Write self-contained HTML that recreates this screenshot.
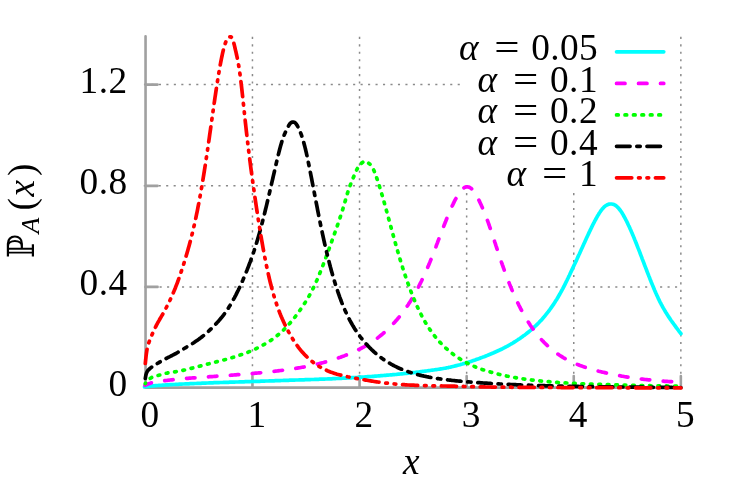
<!DOCTYPE html>
<html><head><meta charset="utf-8"><title>plot</title>
<style>html,body{margin:0;padding:0;background:#fff;overflow:hidden}svg{display:block}text{font-family:"Liberation Serif",serif;fill:#000}svg{will-change:transform}</style></head><body>
<svg width="731" height="487" viewBox="0 0 731 487" role="img" aria-label="Plot of P_A(x) versus x for alpha = 0.05, 0.1, 0.2, 0.4, 1">
<rect width="731" height="487" fill="#fff"/>
<g stroke="#8a8a8a" stroke-width="1.5" fill="none"><g stroke-dasharray="2.1 5.34"><line x1="252.45" y1="36.85" x2="252.45" y2="387.60"/><line x1="359.55" y1="36.85" x2="359.55" y2="387.60"/><line x1="466.65" y1="36.85" x2="466.65" y2="387.60"/><line x1="573.75" y1="36.85" x2="573.75" y2="387.60"/><line x1="680.85" y1="36.85" x2="680.85" y2="387.60"/></g><g stroke-dasharray="2.1 5.37"><line x1="144.65" y1="286.90" x2="680.85" y2="286.90"/><line x1="143.75" y1="185.85" x2="680.85" y2="185.85"/><line x1="143.95" y1="84.60" x2="680.85" y2="84.60"/></g></g>
<g stroke="#a0a0a0" stroke-width="2.6" fill="none" stroke-linejoin="round" stroke-linecap="round"><path d="M145.55 36.30 V387.60 H680.85" /><path d="M145.55 286.90 H157.6"/><path d="M145.55 185.85 H157.6"/><path d="M145.55 84.60 H157.6"/><path d="M252.45 387.60 v-11.5"/><path d="M359.55 387.60 v-11.5"/><path d="M466.65 387.60 v-11.5"/><path d="M573.75 387.60 v-11.5"/><path d="M680.85 387.60 v-11.5"/></g>
<rect x="460.5" y="36" width="218.5" height="156" fill="#fff"/>
<g fill="none" stroke-width="3.7" stroke-linecap="round" stroke-linejoin="round">
<path stroke="#00ffff" d="M144.5 387.0L145.7 386.8L146.9 386.6L148.1 386.5L149.3 386.3L150.5 386.2L151.7 386.0L152.9 385.9L154.1 385.8L155.3 385.7L156.5 385.6L157.7 385.5L158.9 385.4L160.1 385.4L161.3 385.3L162.5 385.2L163.7 385.1L164.9 385.0L166.1 384.9L167.3 384.9L168.5 384.8L169.7 384.7L170.9 384.7L172.1 384.6L173.3 384.5L174.5 384.5L175.7 384.4L176.9 384.3L178.1 384.3L179.3 384.2L180.5 384.2L181.7 384.1L182.9 384.0L184.1 384.0L185.3 383.9L186.5 383.9L187.7 383.8L188.9 383.8L190.1 383.7L191.3 383.7L192.5 383.6L193.7 383.6L194.9 383.5L196.1 383.5L197.3 383.4L198.5 383.4L199.7 383.3L200.9 383.3L202.1 383.2L203.3 383.2L204.5 383.1L205.7 383.1L206.9 383.0L208.1 383.0L209.3 382.9L210.5 382.9L211.7 382.8L212.9 382.8L214.1 382.7L215.3 382.7L216.5 382.7L217.7 382.6L218.9 382.6L220.1 382.5L221.3 382.5L222.5 382.5L223.7 382.4L224.9 382.4L226.1 382.3L227.3 382.3L228.5 382.3L229.7 382.2L230.9 382.2L232.1 382.2L233.3 382.1L234.5 382.1L235.7 382.0L236.9 382.0L238.1 382.0L239.3 381.9L240.5 381.9L241.7 381.8L242.9 381.8L244.1 381.8L245.3 381.7L246.5 381.7L247.7 381.7L248.9 381.6L250.1 381.6L251.3 381.5L252.5 381.5L253.7 381.5L254.9 381.4L256.1 381.4L257.3 381.3L258.5 381.3L259.7 381.3L260.9 381.2L262.1 381.2L263.3 381.1L264.5 381.1L265.7 381.0L266.9 381.0L268.1 381.0L269.3 380.9L270.5 380.9L271.7 380.8L272.9 380.8L274.1 380.8L275.3 380.7L276.5 380.7L277.7 380.6L278.9 380.6L280.1 380.6L281.3 380.5L282.5 380.5L283.7 380.4L284.9 380.4L286.1 380.4L287.3 380.3L288.5 380.3L289.7 380.2L290.9 380.2L292.1 380.2L293.3 380.1L294.5 380.1L295.7 380.0L296.9 380.0L298.1 380.0L299.3 379.9L300.5 379.9L301.7 379.9L302.9 379.8L304.1 379.8L305.3 379.7L306.5 379.7L307.7 379.7L308.9 379.6L310.1 379.6L311.3 379.5L312.5 379.5L313.7 379.5L314.9 379.4L316.1 379.4L317.3 379.3L318.5 379.3L319.7 379.2L320.9 379.2L322.1 379.2L323.3 379.1L324.5 379.1L325.7 379.0L326.9 379.0L328.1 378.9L329.3 378.9L330.5 378.8L331.7 378.8L332.9 378.7L334.1 378.6L335.3 378.6L336.5 378.5L337.7 378.5L338.9 378.4L340.1 378.4L341.3 378.3L342.5 378.2L343.7 378.2L344.9 378.1L346.1 378.1L347.3 378.0L348.5 377.9L349.7 377.9L350.9 377.8L352.1 377.7L353.3 377.7L354.5 377.6L355.7 377.5L356.9 377.5L358.1 377.4L359.3 377.3L360.5 377.2L361.7 377.2L362.9 377.1L364.1 377.0L365.3 376.9L366.5 376.8L367.7 376.7L368.9 376.7L370.1 376.6L371.3 376.5L372.5 376.4L373.7 376.3L374.9 376.2L376.1 376.1L377.3 376.0L378.5 375.9L379.7 375.8L380.9 375.7L382.1 375.6L383.3 375.5L384.5 375.4L385.7 375.3L386.9 375.2L388.1 375.1L389.3 375.0L390.5 374.9L391.7 374.8L392.9 374.7L394.1 374.6L395.3 374.5L396.5 374.4L397.7 374.2L398.9 374.1L400.1 374.0L401.3 373.9L402.5 373.8L403.7 373.6L404.9 373.5L406.1 373.4L407.3 373.3L408.5 373.1L409.7 373.0L410.9 372.9L412.1 372.7L413.3 372.6L414.5 372.5L415.7 372.3L416.9 372.2L418.1 372.0L419.3 371.9L420.5 371.7L421.7 371.6L422.9 371.4L424.1 371.3L425.3 371.1L426.5 371.0L427.7 370.8L428.9 370.6L430.1 370.5L431.3 370.3L432.5 370.1L433.7 370.0L434.9 369.8L436.1 369.6L437.3 369.5L438.5 369.3L439.7 369.1L440.9 368.9L442.1 368.7L443.3 368.5L444.5 368.3L445.7 368.1L446.9 367.8L448.1 367.6L449.3 367.3L450.5 367.1L451.7 366.8L452.9 366.5L454.1 366.2L455.3 365.9L456.5 365.6L457.7 365.3L458.9 365.0L460.1 364.7L461.3 364.3L462.5 364.0L463.7 363.6L464.9 363.3L466.1 362.9L467.3 362.6L468.5 362.2L469.7 361.8L470.9 361.4L472.1 361.0L473.3 360.6L474.5 360.2L475.7 359.8L476.9 359.3L478.1 358.9L479.3 358.5L480.5 358.0L481.7 357.6L482.9 357.1L484.1 356.7L485.3 356.2L486.5 355.7L487.7 355.3L488.9 354.8L490.1 354.3L491.3 353.8L492.5 353.3L493.7 352.8L494.8 352.3L495.9 351.8L497.0 351.3L498.1 350.8L499.2 350.3L500.3 349.7L501.4 349.2L502.5 348.7L503.6 348.1L504.7 347.5L505.8 347.0L506.9 346.4L508.0 345.8L509.1 345.2L510.2 344.5L511.3 343.9L512.4 343.3L513.5 342.6L514.6 341.9L515.7 341.2L516.8 340.5L517.9 339.8L518.9 339.1L519.9 338.5L520.9 337.8L521.9 337.1L522.9 336.3L523.9 335.6L524.9 334.9L525.9 334.1L526.9 333.3L527.9 332.5L528.9 331.7L529.9 330.9L530.9 330.1L531.9 329.2L532.9 328.3L533.8 327.5L534.7 326.7L535.6 325.8L536.5 325.0L537.4 324.1L538.3 323.2L539.2 322.3L540.1 321.3L541.0 320.4L541.9 319.4L542.7 318.5L543.5 317.6L544.3 316.6L545.1 315.7L545.9 314.7L546.7 313.7L547.5 312.7L548.3 311.7L549.1 310.6L549.9 309.5L550.7 308.4L551.4 307.4L552.1 306.4L552.8 305.4L553.5 304.4L554.2 303.3L554.9 302.2L555.6 301.1L556.3 300.0L557.0 298.9L557.7 297.7L558.4 296.5L559.1 295.3L559.7 294.3L560.3 293.2L560.9 292.1L561.5 291.0L562.1 289.9L562.7 288.8L563.3 287.6L563.9 286.5L564.5 285.3L565.1 284.1L565.7 282.9L566.3 281.7L566.9 280.5L567.5 279.2L568.1 278.0L568.7 276.7L569.3 275.5L569.9 274.2L570.5 272.9L571.1 271.7L571.7 270.4L572.3 269.1L572.9 267.8L573.5 266.5L574.1 265.2L574.7 264.0L575.3 262.7L575.9 261.4L576.5 260.1L577.1 258.8L577.7 257.4L578.3 256.1L578.8 255.0L579.3 254.0L579.8 252.9L580.3 251.8L580.8 250.7L581.3 249.6L581.8 248.5L582.3 247.4L582.8 246.3L583.3 245.2L583.8 244.1L584.3 243.0L584.8 241.9L585.3 240.8L585.8 239.7L586.3 238.6L586.9 237.3L587.5 236.0L588.1 234.7L588.7 233.4L589.3 232.1L589.9 230.9L590.5 229.6L591.1 228.4L591.7 227.1L592.3 225.9L592.9 224.7L593.5 223.5L594.1 222.4L594.7 221.2L595.3 220.1L595.9 219.0L596.5 217.9L597.1 216.8L597.8 215.6L598.5 214.5L599.2 213.3L599.9 212.3L600.6 211.2L601.4 210.1L602.2 209.1L603.0 208.2L603.9 207.2L604.8 206.4L605.8 205.6L606.9 205.0L608.0 204.5L609.2 204.1L610.4 204.0L611.6 204.0L612.8 204.2L614.0 204.6L615.1 205.2L616.1 205.8L617.1 206.7L618.0 207.6L618.8 208.5L619.6 209.5L620.4 210.5L621.1 211.5L621.8 212.6L622.5 213.7L623.2 214.9L623.8 216.0L624.4 217.1L625.0 218.2L625.6 219.3L626.2 220.5L626.8 221.7L627.4 222.9L628.0 224.2L628.6 225.5L629.2 226.7L629.7 227.8L630.2 229.0L630.7 230.1L631.2 231.2L631.7 232.4L632.2 233.6L632.7 234.7L633.2 235.9L633.7 237.1L634.2 238.3L634.7 239.6L635.2 240.8L635.7 242.0L636.2 243.3L636.7 244.5L637.2 245.8L637.7 247.1L638.2 248.4L638.7 249.6L639.2 250.9L639.7 252.2L640.2 253.5L640.7 254.8L641.2 256.1L641.7 257.4L642.2 258.8L642.7 260.1L643.2 261.4L643.7 262.7L644.2 264.0L644.7 265.3L645.2 266.6L645.7 267.9L646.2 269.2L646.7 270.5L647.2 271.8L647.7 273.1L648.2 274.4L648.7 275.7L649.2 276.9L649.7 278.2L650.2 279.5L650.7 280.7L651.2 282.0L651.7 283.2L652.2 284.4L652.7 285.6L653.2 286.8L653.7 288.0L654.2 289.2L654.7 290.4L655.2 291.5L655.7 292.7L656.2 293.8L656.7 294.9L657.2 296.0L657.8 297.3L658.4 298.6L659.0 299.8L659.6 301.1L660.2 302.3L660.8 303.4L661.4 304.6L662.0 305.7L662.6 306.8L663.2 307.9L663.8 308.9L664.5 310.1L665.2 311.3L665.9 312.5L666.6 313.6L667.3 314.7L668.0 315.8L668.7 316.9L669.4 317.9L670.1 318.9L670.8 320.0L671.5 321.0L672.2 322.0L672.9 322.9L673.7 324.0L674.5 325.1L675.3 326.2L676.1 327.3L676.9 328.4L677.7 329.4L678.5 330.5L679.3 331.6L680.1 332.6L680.9 333.7"/>
<path stroke="#ff00ff" stroke-dasharray="8.45 13.52" stroke-dashoffset="1.6" d="M145.0 385.3L146.1 384.8L147.3 384.3L148.5 383.8L149.7 383.4L150.9 383.0L152.1 382.7L153.3 382.4L154.5 382.2L155.7 381.9L156.9 381.8L158.1 381.6L159.3 381.4L160.5 381.2L161.7 381.1L162.9 380.9L164.1 380.8L165.3 380.6L166.5 380.5L167.7 380.3L168.9 380.2L170.1 380.0L171.3 379.9L172.5 379.8L173.7 379.6L174.9 379.5L176.1 379.4L177.3 379.3L178.5 379.1L179.7 379.0L180.9 378.9L182.1 378.8L183.3 378.7L184.5 378.6L185.7 378.5L186.9 378.4L188.1 378.3L189.3 378.2L190.5 378.1L191.7 378.0L192.9 377.9L194.1 377.8L195.3 377.8L196.5 377.7L197.7 377.6L198.9 377.5L200.1 377.4L201.3 377.3L202.5 377.2L203.7 377.2L204.9 377.1L206.1 377.0L207.3 376.9L208.5 376.8L209.7 376.7L210.9 376.7L212.1 376.6L213.3 376.5L214.5 376.4L215.7 376.3L216.9 376.2L218.1 376.1L219.3 376.0L220.5 376.0L221.7 375.9L222.9 375.8L224.1 375.7L225.3 375.6L226.5 375.5L227.7 375.4L228.9 375.3L230.1 375.3L231.3 375.2L232.5 375.1L233.7 375.0L234.9 374.9L236.1 374.8L237.3 374.7L238.5 374.6L239.7 374.5L240.9 374.4L242.1 374.4L243.3 374.3L244.5 374.2L245.7 374.1L246.9 374.0L248.1 373.9L249.3 373.8L250.5 373.7L251.7 373.6L252.9 373.5L254.1 373.3L255.3 373.2L256.5 373.1L257.7 373.0L258.9 372.9L260.1 372.8L261.3 372.7L262.5 372.6L263.7 372.4L264.9 372.3L266.1 372.2L267.3 372.1L268.5 371.9L269.7 371.8L270.9 371.7L272.1 371.5L273.3 371.4L274.5 371.3L275.7 371.1L276.9 371.0L278.1 370.8L279.3 370.7L280.5 370.5L281.7 370.4L282.9 370.2L284.1 370.1L285.3 369.9L286.5 369.7L287.7 369.6L288.9 369.4L290.1 369.2L291.3 369.0L292.5 368.9L293.7 368.7L294.9 368.5L296.1 368.3L297.3 368.1L298.5 367.9L299.7 367.7L300.9 367.5L302.1 367.3L303.3 367.1L304.5 366.9L305.7 366.6L306.9 366.4L308.1 366.2L309.3 365.9L310.5 365.7L311.7 365.4L312.9 365.1L314.1 364.9L315.3 364.6L316.5 364.3L317.7 364.0L318.9 363.7L320.1 363.4L321.3 363.1L322.5 362.8L323.7 362.5L324.9 362.1L326.1 361.8L327.3 361.4L328.5 361.1L329.7 360.7L330.9 360.4L332.1 360.0L333.3 359.6L334.5 359.2L335.7 358.8L336.9 358.4L338.1 358.0L339.3 357.6L340.5 357.2L341.7 356.7L342.9 356.3L344.1 355.9L345.3 355.4L346.5 354.9L347.7 354.5L348.9 354.0L350.1 353.5L351.3 353.0L352.5 352.5L353.6 352.0L354.7 351.5L355.8 351.0L356.9 350.5L358.0 349.9L359.1 349.4L360.2 348.8L361.3 348.3L362.4 347.7L363.5 347.1L364.6 346.5L365.7 345.8L366.8 345.2L367.9 344.5L369.0 343.9L370.1 343.2L371.2 342.4L372.3 341.7L373.3 341.0L374.3 340.3L375.3 339.6L376.3 338.9L377.3 338.2L378.3 337.4L379.3 336.6L380.3 335.8L381.3 335.0L382.3 334.2L383.3 333.3L384.3 332.5L385.2 331.7L386.1 330.8L387.0 330.0L387.9 329.2L388.8 328.3L389.7 327.4L390.6 326.5L391.5 325.6L392.4 324.7L393.3 323.7L394.2 322.7L395.1 321.7L395.9 320.8L396.7 319.9L397.5 319.0L398.3 318.1L399.1 317.1L399.9 316.1L400.7 315.1L401.5 314.1L402.3 313.0L403.1 312.0L403.9 310.9L404.7 309.8L405.4 308.8L406.1 307.8L406.8 306.8L407.5 305.7L408.2 304.7L408.9 303.6L409.6 302.5L410.3 301.4L411.0 300.3L411.7 299.1L412.4 298.0L413.1 296.8L413.8 295.6L414.4 294.5L415.0 293.5L415.6 292.4L416.2 291.3L416.8 290.2L417.4 289.1L418.0 287.9L418.6 286.8L419.2 285.6L419.8 284.4L420.4 283.2L421.0 282.0L421.6 280.8L422.2 279.5L422.8 278.2L423.4 277.0L424.0 275.7L424.5 274.6L425.0 273.5L425.5 272.4L426.0 271.2L426.5 270.1L427.0 269.0L427.5 267.8L428.0 266.6L428.5 265.5L429.0 264.3L429.5 263.1L430.0 261.9L430.5 260.6L431.0 259.4L431.5 258.2L432.0 256.9L432.5 255.7L433.0 254.4L433.5 253.1L434.0 251.8L434.5 250.5L435.0 249.2L435.5 247.9L436.0 246.6L436.5 245.2L437.0 243.9L437.5 242.6L438.0 241.2L438.5 239.9L439.0 238.6L439.5 237.3L440.0 235.9L440.5 234.6L441.0 233.3L441.5 232.0L442.0 230.7L442.5 229.4L443.0 228.1L443.5 226.8L444.0 225.5L444.5 224.3L445.0 223.0L445.5 221.8L446.0 220.5L446.5 219.3L447.0 218.0L447.5 216.8L448.0 215.6L448.5 214.4L449.0 213.2L449.5 212.1L450.0 210.9L450.5 209.7L451.0 208.6L451.5 207.5L452.0 206.4L452.6 205.1L453.2 203.9L453.8 202.6L454.4 201.4L455.0 200.2L455.6 199.1L456.2 198.0L456.8 196.9L457.5 195.7L458.2 194.6L458.9 193.5L459.6 192.5L460.4 191.4L461.2 190.4L462.0 189.5L462.9 188.6L463.9 187.8L465.0 187.2L466.2 186.9L467.4 186.8L468.6 187.0L469.8 187.5L470.9 188.2L471.9 189.1L472.8 190.0L473.6 191.0L474.4 192.1L475.1 193.2L475.8 194.4L476.5 195.6L477.1 196.7L477.7 197.8L478.3 199.0L478.9 200.2L479.5 201.4L480.1 202.7L480.7 204.0L481.2 205.1L481.7 206.2L482.2 207.3L482.7 208.5L483.2 209.6L483.7 210.8L484.2 212.0L484.7 213.3L485.2 214.5L485.7 215.8L486.2 217.1L486.7 218.4L487.2 219.8L487.7 221.1L488.2 222.5L488.7 223.9L489.1 225.0L489.5 226.2L489.9 227.3L490.3 228.5L490.7 229.7L491.1 230.9L491.5 232.1L491.9 233.3L492.3 234.5L492.7 235.7L493.1 236.9L493.5 238.1L493.9 239.3L494.3 240.5L494.7 241.8L495.1 243.0L495.5 244.2L495.9 245.5L496.3 246.7L496.7 247.9L497.1 249.1L497.5 250.4L497.9 251.6L498.3 252.8L498.7 254.0L499.1 255.2L499.5 256.4L499.9 257.6L500.3 258.8L500.7 260.0L501.1 261.1L501.5 262.3L501.9 263.4L502.3 264.6L502.7 265.7L503.2 267.1L503.7 268.5L504.2 269.9L504.7 271.3L505.2 272.7L505.7 274.0L506.2 275.4L506.7 276.7L507.2 278.0L507.7 279.3L508.2 280.6L508.7 281.9L509.2 283.1L509.7 284.4L510.2 285.6L510.7 286.9L511.2 288.1L511.7 289.3L512.2 290.5L512.7 291.6L513.2 292.8L513.7 293.9L514.2 295.1L514.7 296.2L515.2 297.3L515.7 298.4L516.3 299.7L516.9 301.0L517.5 302.3L518.1 303.5L518.7 304.8L519.3 306.0L519.9 307.2L520.5 308.4L521.1 309.5L521.7 310.6L522.3 311.8L522.9 312.9L523.5 314.0L524.1 315.0L524.7 316.1L525.4 317.3L526.1 318.5L526.8 319.7L527.5 320.8L528.2 321.9L528.9 323.0L529.6 324.1L530.3 325.2L531.0 326.2L531.7 327.2L532.4 328.2L533.1 329.2L533.9 330.3L534.7 331.4L535.5 332.4L536.3 333.5L537.1 334.5L537.9 335.4L538.7 336.4L539.5 337.3L540.3 338.3L541.1 339.2L542.0 340.2L542.9 341.1L543.8 342.1L544.7 343.0L545.6 343.9L546.5 344.7L547.4 345.6L548.3 346.4L549.2 347.2L550.2 348.1L551.2 349.0L552.2 349.8L553.2 350.6L554.2 351.4L555.2 352.2L556.2 352.9L557.2 353.6L558.2 354.3L559.2 355.0L560.3 355.7L561.4 356.4L562.5 357.1L563.6 357.8L564.7 358.4L565.8 359.0L566.9 359.6L568.0 360.2L569.1 360.8L570.2 361.3L571.3 361.8L572.4 362.3L573.5 362.8L574.7 363.4L575.9 363.9L577.1 364.3L578.3 364.8L579.5 365.3L580.7 365.7L581.9 366.1L583.1 366.6L584.3 367.0L585.5 367.4L586.7 367.7L587.9 368.1L589.1 368.5L590.3 368.8L591.5 369.2L592.7 369.5L593.9 369.9L595.1 370.2L596.3 370.5L597.5 370.8L598.7 371.2L599.9 371.5L601.1 371.8L602.3 372.1L603.5 372.3L604.7 372.6L605.9 372.9L607.1 373.2L608.3 373.5L609.5 373.7L610.7 374.0L611.9 374.2L613.1 374.5L614.3 374.7L615.5 374.9L616.7 375.2L617.9 375.4L619.1 375.6L620.3 375.8L621.5 376.1L622.7 376.3L623.9 376.5L625.1 376.7L626.3 376.9L627.5 377.1L628.7 377.2L629.9 377.4L631.1 377.6L632.3 377.8L633.5 378.0L634.7 378.1L635.9 378.3L637.1 378.5L638.3 378.6L639.5 378.8L640.7 378.9L641.9 379.1L643.1 379.2L644.3 379.4L645.5 379.5L646.7 379.6L647.9 379.8L649.1 379.9L650.3 380.0L651.5 380.1L652.7 380.3L653.9 380.4L655.1 380.5L656.3 380.6L657.5 380.7L658.7 380.8L659.9 380.9L661.1 381.0L662.3 381.1L663.5 381.2L664.7 381.3L665.9 381.3L667.1 381.4L668.3 381.5L669.5 381.6L670.7 381.6L671.9 381.7L673.1 381.7L674.3 381.8L675.5 381.8L676.7 381.9L677.9 381.9L679.1 382.0L680.3 382.0L680.9 382.0"/>
<path stroke="#00ff00" stroke-dasharray="1.69 6.76" stroke-dashoffset="1.3" d="M145.3 383.5L146.1 382.5L146.9 381.6L147.7 380.7L148.6 379.7L149.5 378.9L150.5 378.2L151.6 377.5L152.7 377.0L153.9 376.6L155.1 376.2L156.3 375.9L157.5 375.6L158.7 375.3L159.9 375.0L161.1 374.6L162.3 374.3L163.5 373.9L164.7 373.6L165.9 373.3L167.1 373.1L168.3 372.8L169.5 372.6L170.7 372.5L171.9 372.3L173.1 372.1L174.3 371.9L175.5 371.8L176.7 371.6L177.9 371.4L179.1 371.1L180.3 370.9L181.5 370.7L182.7 370.4L183.9 370.1L185.1 369.9L186.3 369.6L187.5 369.3L188.7 369.0L189.9 368.7L191.1 368.4L192.3 368.1L193.5 367.8L194.7 367.4L195.9 367.1L197.1 366.8L198.3 366.5L199.5 366.2L200.7 365.9L201.9 365.6L203.1 365.3L204.3 365.0L205.5 364.7L206.7 364.3L207.9 364.0L209.1 363.7L210.3 363.4L211.5 363.1L212.7 362.8L213.9 362.5L215.1 362.2L216.3 361.9L217.5 361.6L218.7 361.3L219.9 360.9L221.1 360.6L222.3 360.3L223.5 360.0L224.7 359.7L225.9 359.4L227.1 359.0L228.3 358.7L229.5 358.4L230.7 358.0L231.9 357.7L233.1 357.3L234.3 357.0L235.5 356.6L236.7 356.2L237.9 355.8L239.1 355.4L240.3 355.0L241.5 354.6L242.7 354.2L243.9 353.8L245.1 353.3L246.3 352.8L247.5 352.4L248.7 351.9L249.9 351.4L251.1 350.9L252.3 350.4L253.4 349.9L254.5 349.4L255.6 348.9L256.7 348.3L257.8 347.8L258.9 347.2L260.0 346.7L261.1 346.1L262.2 345.5L263.3 344.9L264.4 344.3L265.5 343.7L266.6 343.0L267.7 342.3L268.8 341.6L269.9 340.9L270.9 340.3L271.9 339.6L272.9 338.9L273.9 338.1L274.9 337.4L275.9 336.6L276.9 335.8L277.9 335.0L278.9 334.2L279.9 333.3L280.8 332.5L281.7 331.7L282.6 330.8L283.5 330.0L284.4 329.1L285.3 328.2L286.2 327.3L287.1 326.3L288.0 325.3L288.9 324.3L289.7 323.4L290.5 322.5L291.3 321.6L292.1 320.6L292.9 319.6L293.7 318.6L294.5 317.6L295.3 316.6L296.1 315.5L296.9 314.5L297.7 313.4L298.5 312.3L299.3 311.2L300.0 310.2L300.7 309.2L301.4 308.2L302.1 307.2L302.8 306.1L303.5 305.1L304.2 304.0L304.9 302.9L305.6 301.8L306.3 300.7L307.0 299.6L307.7 298.4L308.4 297.2L309.0 296.2L309.6 295.1L310.2 294.0L310.8 292.9L311.4 291.8L312.0 290.6L312.6 289.4L313.2 288.2L313.8 287.0L314.4 285.7L315.0 284.5L315.5 283.4L316.0 282.2L316.5 281.1L317.0 280.0L317.5 278.8L318.0 277.6L318.5 276.4L319.0 275.2L319.5 274.0L320.0 272.8L320.5 271.5L321.0 270.3L321.5 269.0L322.0 267.7L322.5 266.5L323.0 265.2L323.5 263.8L324.0 262.5L324.5 261.2L325.0 259.9L325.5 258.5L326.0 257.2L326.5 255.8L327.0 254.5L327.5 253.1L328.0 251.7L328.5 250.4L329.0 249.0L329.5 247.6L330.0 246.2L330.5 244.8L331.0 243.4L331.5 242.1L332.0 240.7L332.5 239.3L333.0 237.9L333.5 236.5L334.0 235.1L334.5 233.7L335.0 232.3L335.5 230.9L336.0 229.5L336.4 228.4L336.8 227.2L337.2 226.1L337.6 224.9L338.0 223.8L338.4 222.6L338.8 221.4L339.2 220.3L339.6 219.1L340.0 217.9L340.4 216.7L340.8 215.4L341.2 214.2L341.6 212.9L342.0 211.7L342.4 210.4L342.8 209.1L343.2 207.8L343.6 206.5L344.0 205.2L344.4 203.8L344.8 202.4L345.2 201.1L345.6 199.7L346.0 198.3L346.4 196.9L346.8 195.5L347.2 194.1L347.6 192.8L348.0 191.6L348.4 190.3L348.8 189.2L349.2 188.0L349.7 186.6L350.2 185.3L350.7 184.0L351.2 182.7L351.7 181.5L352.2 180.3L352.7 179.1L353.2 177.9L353.7 176.7L354.2 175.5L354.7 174.3L355.2 173.2L355.7 172.1L356.2 171.0L356.8 169.7L357.4 168.5L358.0 167.4L358.7 166.3L359.4 165.3L360.2 164.3L361.1 163.5L362.1 162.7L363.1 162.0L364.2 161.4L365.4 161.2L366.6 161.7L367.6 162.4L368.6 163.2L369.6 163.9L370.5 164.8L371.3 165.7L372.0 166.7L372.6 167.8L373.2 168.9L373.8 170.2L374.3 171.4L374.8 172.7L375.3 174.0L375.8 175.3L376.3 176.7L376.7 177.9L377.1 179.1L377.5 180.3L377.9 181.5L378.3 182.7L378.7 184.0L379.1 185.2L379.5 186.5L379.9 187.8L380.3 189.1L380.7 190.4L381.1 191.8L381.5 193.1L381.9 194.5L382.3 195.8L382.7 197.2L383.1 198.6L383.5 200.0L383.9 201.4L384.3 202.8L384.7 204.2L385.1 205.7L385.5 207.1L385.9 208.5L386.3 210.0L386.7 211.4L387.1 212.9L387.5 214.4L387.9 215.8L388.3 217.3L388.7 218.8L389.1 220.2L389.5 221.7L389.9 223.2L390.3 224.6L390.7 226.1L391.1 227.6L391.5 229.1L391.9 230.5L392.3 232.0L392.7 233.5L393.1 234.9L393.5 236.4L393.9 237.8L394.3 239.3L394.7 240.7L395.1 242.2L395.5 243.6L395.9 245.0L396.3 246.4L396.7 247.8L397.1 249.2L397.5 250.6L397.9 252.0L398.3 253.4L398.7 254.7L399.1 256.1L399.5 257.4L399.9 258.8L400.3 260.1L400.7 261.4L401.1 262.7L401.5 264.0L401.9 265.3L402.3 266.5L402.7 267.8L403.1 269.0L403.5 270.3L403.9 271.5L404.3 272.7L404.7 273.9L405.1 275.1L405.5 276.3L405.9 277.5L406.3 278.7L406.7 279.8L407.1 281.0L407.5 282.1L408.0 283.5L408.5 284.9L409.0 286.3L409.5 287.6L410.0 289.0L410.5 290.3L411.0 291.6L411.5 292.9L412.0 294.2L412.5 295.4L413.0 296.7L413.5 297.9L414.0 299.1L414.5 300.3L415.0 301.5L415.5 302.6L416.0 303.8L416.5 304.9L417.0 306.0L417.5 307.1L418.1 308.4L418.7 309.7L419.3 310.9L419.9 312.1L420.5 313.3L421.1 314.5L421.7 315.7L422.3 316.8L422.9 317.9L423.5 319.0L424.1 320.1L424.7 321.2L425.4 322.4L426.1 323.5L426.8 324.7L427.5 325.8L428.2 326.9L428.9 328.0L429.6 329.1L430.3 330.1L431.0 331.1L431.7 332.1L432.5 333.2L433.3 334.3L434.1 335.3L434.9 336.3L435.7 337.3L436.5 338.3L437.3 339.2L438.1 340.2L438.9 341.1L439.8 342.1L440.7 343.0L441.6 344.0L442.5 344.9L443.4 345.8L444.3 346.6L445.2 347.5L446.1 348.3L447.0 349.1L447.9 349.9L448.9 350.8L449.9 351.6L450.9 352.5L451.9 353.3L452.9 354.0L453.9 354.8L454.9 355.5L455.9 356.2L456.9 356.9L457.9 357.6L459.0 358.3L460.1 359.0L461.2 359.7L462.3 360.4L463.4 361.0L464.5 361.6L465.6 362.3L466.7 362.8L467.8 363.4L468.9 364.0L470.0 364.5L471.1 365.0L472.2 365.5L473.3 366.0L474.5 366.5L475.7 367.0L476.9 367.5L478.1 368.0L479.3 368.4L480.5 368.8L481.7 369.3L482.9 369.7L484.1 370.1L485.3 370.5L486.5 370.9L487.7 371.2L488.9 371.6L490.1 371.9L491.3 372.3L492.5 372.6L493.7 372.9L494.9 373.3L496.1 373.6L497.3 373.9L498.5 374.2L499.7 374.5L500.9 374.8L502.1 375.0L503.3 375.3L504.5 375.6L505.7 375.8L506.9 376.1L508.1 376.3L509.3 376.6L510.5 376.8L511.7 377.0L512.9 377.2L514.1 377.4L515.3 377.6L516.5 377.9L517.7 378.0L518.9 378.2L520.1 378.4L521.3 378.6L522.5 378.8L523.7 379.0L524.9 379.1L526.1 379.3L527.3 379.5L528.5 379.6L529.7 379.8L530.9 379.9L532.1 380.1L533.3 380.2L534.5 380.3L535.7 380.5L536.9 380.6L538.1 380.7L539.3 380.8L540.5 381.0L541.7 381.1L542.9 381.2L544.1 381.3L545.3 381.4L546.5 381.5L547.7 381.6L548.9 381.7L550.1 381.8L551.3 381.9L552.5 382.0L553.7 382.1L554.9 382.2L556.1 382.3L557.3 382.4L558.5 382.5L559.7 382.6L560.9 382.6L562.1 382.7L563.3 382.8L564.5 382.9L565.7 382.9L566.9 383.0L568.1 383.1L569.3 383.1L570.5 383.2L571.7 383.3L572.9 383.3L574.1 383.4L575.3 383.4L576.5 383.5L577.7 383.5L578.9 383.6L580.1 383.7L581.3 383.7L582.5 383.8L583.7 383.8L584.9 383.9L586.1 383.9L587.3 384.0L588.5 384.0L589.7 384.1L590.9 384.1L592.1 384.1L593.3 384.2L594.5 384.2L595.7 384.3L596.9 384.3L598.1 384.4L599.3 384.4L600.5 384.4L601.7 384.5L602.9 384.5L604.1 384.5L605.3 384.6L606.5 384.6L607.7 384.7L608.9 384.7L610.1 384.7L611.3 384.8L612.5 384.8L613.7 384.8L614.9 384.9L616.1 384.9L617.3 384.9L618.5 385.0L619.7 385.0L620.9 385.0L622.1 385.1L623.3 385.1L624.5 385.1L625.7 385.2L626.9 385.2L628.1 385.2L629.3 385.3L630.5 385.3L631.7 385.3L632.9 385.4L634.1 385.4L635.3 385.4L636.5 385.4L637.7 385.5L638.9 385.5L640.1 385.5L641.3 385.6L642.5 385.6L643.7 385.6L644.9 385.6L646.1 385.7L647.3 385.7L648.5 385.7L649.7 385.7L650.9 385.8L652.1 385.8L653.3 385.8L654.5 385.8L655.7 385.8L656.9 385.9L658.1 385.9L659.3 385.9L660.5 385.9L661.7 385.9L662.9 385.9L664.1 385.9L665.3 385.9L666.5 385.9L667.7 386.0L668.9 386.0L670.1 386.0L671.3 386.0L672.5 386.0L673.7 386.0L674.9 386.0L676.1 386.0L677.3 386.0L678.5 386.0L679.7 386.0L680.9 386.0"/>
<path stroke="#000000" stroke-dasharray="13.52 6.76 3.38 6.76" stroke-dashoffset="0.0" d="M145.3 378.5L145.5 377.2L145.8 375.5L146.1 374.3L146.5 373.0L147.0 371.9L147.7 370.7L148.5 369.8L149.4 369.0L150.4 368.1L151.4 367.3L152.4 366.6L153.4 366.0L154.5 365.2L155.6 364.6L156.7 363.9L157.8 363.2L158.9 362.6L160.0 361.9L161.1 361.3L162.2 360.7L163.3 360.0L164.4 359.4L165.5 358.8L166.6 358.3L167.7 357.7L168.8 357.1L169.9 356.6L171.0 356.0L172.1 355.5L173.2 354.9L174.3 354.3L175.4 353.8L176.5 353.2L177.6 352.5L178.7 351.9L179.8 351.2L180.9 350.6L182.0 349.9L183.1 349.2L184.2 348.5L185.3 347.9L186.4 347.2L187.5 346.5L188.6 345.9L189.7 345.2L190.8 344.5L191.9 343.9L193.0 343.2L194.1 342.5L195.1 341.8L196.1 341.1L197.1 340.4L198.1 339.7L199.1 339.0L200.1 338.2L201.1 337.5L202.1 336.7L203.1 335.9L204.1 335.1L205.1 334.2L206.1 333.4L207.1 332.5L208.0 331.7L208.9 330.9L209.8 330.0L210.7 329.2L211.6 328.3L212.5 327.4L213.4 326.5L214.3 325.6L215.2 324.7L216.1 323.7L217.0 322.7L217.9 321.8L218.7 320.9L219.5 319.9L220.3 319.0L221.1 318.1L221.9 317.1L222.7 316.1L223.5 315.1L224.3 314.0L225.1 312.9L225.8 311.9L226.5 310.9L227.2 309.9L227.9 308.8L228.6 307.7L229.3 306.6L230.0 305.5L230.7 304.3L231.4 303.1L232.1 301.9L232.7 300.8L233.3 299.8L233.9 298.7L234.5 297.6L235.1 296.4L235.7 295.3L236.3 294.1L236.9 292.9L237.5 291.7L238.1 290.5L238.7 289.2L239.3 288.0L239.9 286.7L240.5 285.4L241.0 284.3L241.5 283.2L242.0 282.1L242.5 280.9L243.0 279.8L243.5 278.6L244.0 277.5L244.5 276.3L245.0 275.1L245.5 273.9L246.0 272.6L246.5 271.4L247.0 270.2L247.5 268.9L248.0 267.6L248.5 266.3L249.0 265.0L249.5 263.7L250.0 262.4L250.5 261.0L251.0 259.6L251.5 258.2L252.0 256.8L252.4 255.7L252.8 254.5L253.2 253.3L253.6 252.2L254.0 251.0L254.4 249.7L254.8 248.5L255.2 247.3L255.6 246.0L256.0 244.7L256.4 243.4L256.8 242.1L257.2 240.8L257.6 239.5L258.0 238.1L258.4 236.7L258.8 235.3L259.2 233.9L259.6 232.5L260.0 231.0L260.4 229.6L260.8 228.1L261.2 226.6L261.6 225.1L262.0 223.5L262.4 222.0L262.7 220.8L263.0 219.7L263.3 218.5L263.6 217.3L263.9 216.1L264.2 214.9L264.5 213.7L264.8 212.5L265.1 211.3L265.4 210.0L265.7 208.8L266.0 207.6L266.3 206.3L266.6 205.1L266.9 203.8L267.2 202.5L267.5 201.3L267.8 200.0L268.1 198.7L268.4 197.5L268.7 196.2L269.0 194.9L269.3 193.6L269.6 192.3L269.9 191.0L270.2 189.7L270.5 188.4L270.8 187.1L271.1 185.8L271.4 184.5L271.7 183.2L272.0 181.9L272.3 180.6L272.6 179.3L272.9 178.0L273.2 176.7L273.5 175.4L273.8 174.1L274.1 172.8L274.4 171.5L274.7 170.2L275.0 168.9L275.3 167.6L275.6 166.3L275.9 165.0L276.2 163.7L276.5 162.4L276.8 161.1L277.1 159.8L277.4 158.6L277.7 157.3L278.0 156.1L278.3 154.8L278.6 153.6L278.9 152.4L279.2 151.2L279.5 150.1L279.9 148.5L280.3 147.1L280.7 145.6L281.1 144.2L281.5 142.9L281.9 141.5L282.3 140.3L282.7 139.1L283.1 137.9L283.6 136.6L284.1 135.3L284.6 134.0L285.1 132.9L285.6 131.8L286.2 130.5L286.8 129.2L287.4 128.1L288.0 126.9L288.6 125.8L289.3 124.6L290.0 123.6L290.9 122.7L292.0 122.2L293.2 122.1L294.4 122.3L295.4 123.0L296.2 123.9L296.9 125.0L297.5 126.0L298.1 127.2L298.7 128.4L299.3 129.7L299.8 130.9L300.3 132.1L300.8 133.4L301.3 134.7L301.8 136.1L302.2 137.3L302.6 138.6L303.0 139.9L303.4 141.2L303.8 142.7L304.2 144.2L304.6 145.7L304.9 146.9L305.2 148.1L305.5 149.3L305.8 150.6L306.1 151.9L306.4 153.2L306.7 154.6L307.0 155.9L307.3 157.3L307.6 158.7L307.9 160.2L308.2 161.6L308.5 163.1L308.8 164.5L309.1 166.0L309.4 167.5L309.7 169.0L310.0 170.5L310.3 172.0L310.6 173.6L310.9 175.1L311.2 176.6L311.5 178.2L311.8 179.7L312.1 181.3L312.4 182.8L312.7 184.4L313.0 186.0L313.3 187.5L313.6 189.1L313.9 190.6L314.2 192.2L314.5 193.8L314.8 195.3L315.1 196.9L315.4 198.4L315.7 200.0L316.0 201.5L316.3 203.1L316.6 204.6L316.9 206.2L317.2 207.7L317.5 209.3L317.8 210.8L318.1 212.3L318.4 213.8L318.7 215.4L319.0 216.9L319.3 218.4L319.6 219.9L319.9 221.3L320.2 222.8L320.5 224.3L320.8 225.8L321.1 227.2L321.4 228.6L321.7 230.1L322.0 231.5L322.3 232.9L322.6 234.3L322.9 235.7L323.2 237.1L323.5 238.4L323.8 239.8L324.1 241.1L324.4 242.5L324.7 243.8L325.0 245.1L325.3 246.4L325.6 247.7L325.9 249.0L326.2 250.3L326.5 251.5L326.8 252.8L327.1 254.0L327.4 255.2L327.7 256.5L328.0 257.7L328.3 258.9L328.6 260.0L328.9 261.2L329.2 262.4L329.6 263.9L330.0 265.4L330.4 267.0L330.8 268.4L331.2 269.9L331.6 271.4L332.0 272.8L332.4 274.2L332.8 275.6L333.2 277.0L333.6 278.3L334.0 279.7L334.4 281.0L334.8 282.3L335.2 283.6L335.6 284.9L336.0 286.1L336.4 287.4L336.8 288.6L337.2 289.8L337.6 291.0L338.0 292.2L338.4 293.3L338.8 294.5L339.3 295.9L339.8 297.3L340.3 298.6L340.8 300.0L341.3 301.3L341.8 302.6L342.3 303.8L342.8 305.1L343.3 306.3L343.8 307.5L344.3 308.6L344.8 309.8L345.3 310.9L345.8 312.0L346.4 313.3L347.0 314.6L347.6 315.9L348.2 317.1L348.8 318.3L349.4 319.4L350.0 320.6L350.6 321.7L351.2 322.8L351.8 323.8L352.4 324.9L353.1 326.1L353.8 327.2L354.5 328.4L355.2 329.5L355.9 330.6L356.6 331.6L357.3 332.6L358.0 333.6L358.7 334.6L359.5 335.7L360.3 336.8L361.1 337.8L361.9 338.8L362.7 339.8L363.5 340.8L364.3 341.7L365.1 342.7L365.9 343.6L366.8 344.6L367.7 345.6L368.6 346.5L369.5 347.5L370.4 348.4L371.3 349.3L372.2 350.1L373.1 351.0L374.0 351.8L374.9 352.6L375.9 353.5L376.9 354.3L377.9 355.2L378.9 356.0L379.9 356.8L380.9 357.5L381.9 358.3L382.9 359.0L383.9 359.7L384.9 360.4L386.0 361.1L387.1 361.8L388.2 362.5L389.3 363.1L390.4 363.7L391.5 364.4L392.6 365.0L393.7 365.5L394.8 366.1L395.9 366.6L397.0 367.2L398.1 367.7L399.2 368.2L400.4 368.7L401.6 369.2L402.8 369.7L404.0 370.2L405.2 370.6L406.4 371.1L407.6 371.5L408.8 371.9L410.0 372.3L411.2 372.7L412.4 373.1L413.6 373.4L414.8 373.8L416.0 374.1L417.2 374.5L418.4 374.8L419.6 375.1L420.8 375.4L422.0 375.7L423.2 375.9L424.4 376.2L425.6 376.4L426.8 376.7L428.0 376.9L429.2 377.2L430.4 377.4L431.6 377.6L432.8 377.8L434.0 378.0L435.2 378.2L436.4 378.4L437.6 378.6L438.8 378.7L440.0 378.9L441.2 379.1L442.4 379.2L443.6 379.4L444.8 379.5L446.0 379.7L447.2 379.8L448.4 380.0L449.6 380.1L450.8 380.2L452.0 380.4L453.2 380.5L454.4 380.6L455.6 380.8L456.8 380.9L458.0 381.0L459.2 381.1L460.4 381.2L461.6 381.3L462.8 381.4L464.0 381.5L465.2 381.7L466.4 381.8L467.6 381.9L468.8 381.9L470.0 382.0L471.2 382.1L472.4 382.2L473.6 382.3L474.8 382.4L476.0 382.5L477.2 382.6L478.4 382.7L479.6 382.7L480.8 382.8L482.0 382.9L483.2 383.0L484.4 383.1L485.6 383.1L486.8 383.2L488.0 383.3L489.2 383.4L490.4 383.4L491.6 383.5L492.8 383.6L494.0 383.6L495.2 383.7L496.4 383.8L497.6 383.8L498.8 383.9L500.0 384.0L501.2 384.0L502.4 384.1L503.6 384.1L504.8 384.2L506.0 384.3L507.2 384.3L508.4 384.4L509.6 384.4L510.8 384.5L512.0 384.6L513.2 384.6L514.4 384.7L515.6 384.7L516.8 384.8L518.0 384.8L519.2 384.9L520.4 384.9L521.6 385.0L522.8 385.0L524.0 385.1L525.2 385.1L526.4 385.2L527.6 385.2L528.8 385.2L530.0 385.3L531.2 385.3L532.4 385.4L533.6 385.4L534.8 385.4L536.0 385.5L537.2 385.5L538.4 385.6L539.6 385.6L540.8 385.6L542.0 385.7L543.2 385.7L544.4 385.7L545.6 385.8L546.8 385.8L548.0 385.8L549.2 385.9L550.4 385.9L551.6 385.9L552.8 385.9L554.0 386.0L555.2 386.0L556.4 386.0L557.6 386.1L558.8 386.1L560.0 386.1L561.2 386.1L562.4 386.2L563.6 386.2L564.8 386.2L566.0 386.2L567.2 386.3L568.4 386.3L569.6 386.3L570.8 386.3L572.0 386.3L573.2 386.4L574.4 386.4L575.6 386.4L576.8 386.4L578.0 386.4L579.2 386.5L580.4 386.5L581.6 386.5L582.8 386.5L584.0 386.5L585.2 386.6L586.4 386.6L587.6 386.6L588.8 386.6L590.0 386.6L591.2 386.6L592.4 386.7L593.6 386.7L594.8 386.7L596.0 386.7L597.2 386.7L598.4 386.7L599.6 386.8L600.8 386.8L602.0 386.8L603.2 386.8L604.4 386.8L605.6 386.8L606.8 386.8L608.0 386.9L609.2 386.9L610.4 386.9L611.6 386.9L612.8 386.9L614.0 386.9L615.2 386.9L616.4 387.0L617.6 387.0L618.8 387.0L620.0 387.0L621.2 387.0L622.4 387.0L623.6 387.0L624.8 387.1L626.0 387.1L627.2 387.1L628.4 387.1L629.6 387.1L630.8 387.1L632.0 387.1L633.2 387.1L634.4 387.1L635.6 387.2L636.8 387.2L638.0 387.2L639.2 387.2L640.4 387.2L641.6 387.2L642.8 387.2L644.0 387.2L645.2 387.2L646.4 387.3L647.6 387.3L648.8 387.3L650.0 387.3L651.2 387.3L652.4 387.3L653.6 387.3L654.8 387.3L656.0 387.3L657.2 387.3L658.4 387.4L659.6 387.4L660.8 387.4L662.0 387.4L663.2 387.4L664.4 387.4L665.6 387.4L666.8 387.4L668.0 387.4L669.2 387.4L670.4 387.4L671.6 387.4L672.8 387.5L674.0 387.5L675.2 387.5L676.4 387.5L677.6 387.5L678.8 387.5L680.0 387.5L680.9 387.5"/>
<path stroke="#ff0000" stroke-dasharray="15.21 6.76 1.69 6.76 1.69 6.76" stroke-dashoffset="0.9" d="M145.3 363.5L145.5 361.5L145.7 359.5L145.9 357.7L146.1 355.9L146.3 354.3L146.5 352.8L146.7 351.4L146.9 350.2L147.2 348.5L147.5 347.1L147.8 345.8L148.2 344.5L148.6 343.3L149.1 341.9L149.6 340.6L150.1 339.3L150.6 338.0L151.1 336.8L151.6 335.6L152.1 334.4L152.6 333.3L153.1 332.1L153.6 331.0L154.2 329.8L154.8 328.5L155.4 327.3L156.0 326.1L156.6 324.9L157.2 323.8L157.8 322.7L158.4 321.6L159.0 320.6L159.6 319.5L160.3 318.3L161.0 317.1L161.7 315.9L162.4 314.7L163.0 313.7L163.6 312.6L164.2 311.5L164.8 310.4L165.4 309.3L166.0 308.2L166.6 307.0L167.2 305.8L167.8 304.7L168.4 303.4L169.0 302.2L169.6 301.0L170.2 299.7L170.8 298.4L171.3 297.3L171.8 296.2L172.3 295.1L172.8 293.9L173.3 292.8L173.8 291.6L174.3 290.4L174.8 289.2L175.3 288.0L175.8 286.7L176.3 285.4L176.8 284.1L177.3 282.8L177.8 281.5L178.3 280.1L178.8 278.7L179.3 277.3L179.7 276.2L180.1 275.0L180.5 273.8L180.9 272.6L181.3 271.5L181.7 270.2L182.1 269.0L182.5 267.8L182.9 266.5L183.3 265.3L183.7 264.0L184.1 262.7L184.5 261.4L184.9 260.1L185.3 258.8L185.7 257.5L186.1 256.1L186.5 254.8L186.9 253.4L187.3 252.0L187.7 250.7L188.1 249.3L188.5 247.8L188.9 246.4L189.3 245.0L189.7 243.5L190.1 242.0L190.5 240.5L190.9 239.0L191.3 237.4L191.6 236.2L191.9 235.0L192.2 233.8L192.5 232.6L192.8 231.4L193.1 230.1L193.4 228.8L193.7 227.6L194.0 226.2L194.3 224.9L194.6 223.6L194.9 222.2L195.2 220.9L195.5 219.5L195.8 218.1L196.1 216.6L196.4 215.2L196.7 213.7L197.0 212.3L197.3 210.8L197.6 209.3L197.9 207.7L198.2 206.2L198.5 204.6L198.8 203.1L199.1 201.5L199.4 199.9L199.7 198.2L200.0 196.6L200.3 194.9L200.6 193.3L200.9 191.6L201.2 189.9L201.5 188.1L201.8 186.4L202.1 184.6L202.4 182.9L202.6 181.7L202.8 180.5L203.0 179.3L203.2 178.0L203.4 176.8L203.6 175.6L203.8 174.4L204.0 173.1L204.2 171.9L204.4 170.6L204.6 169.3L204.8 168.1L205.0 166.8L205.2 165.5L205.4 164.2L205.6 162.9L205.8 161.6L206.0 160.3L206.2 158.9L206.4 157.6L206.6 156.3L206.8 154.9L207.0 153.6L207.2 152.2L207.4 150.8L207.6 149.5L207.8 148.1L208.0 146.7L208.2 145.3L208.4 143.9L208.6 142.6L208.8 141.2L209.0 139.8L209.2 138.4L209.4 136.9L209.6 135.5L209.8 134.1L210.0 132.7L210.2 131.3L210.4 129.9L210.6 128.5L210.8 127.0L211.0 125.6L211.2 124.2L211.4 122.8L211.6 121.4L211.8 120.0L212.0 118.5L212.2 117.1L212.4 115.7L212.6 114.3L212.8 112.9L213.0 111.5L213.2 110.1L213.4 108.7L213.6 107.3L213.8 105.9L214.0 104.5L214.2 103.1L214.4 101.7L214.6 100.4L214.8 99.0L215.0 97.6L215.2 96.3L215.4 94.9L215.6 93.6L215.8 92.2L216.0 90.9L216.2 89.6L216.4 88.2L216.6 86.9L216.8 85.6L217.0 84.3L217.2 83.1L217.4 81.8L217.6 80.5L217.8 79.3L218.0 78.0L218.2 76.8L218.4 75.6L218.6 74.4L218.8 73.2L219.0 72.0L219.3 70.2L219.6 68.5L219.9 66.8L220.2 65.2L220.5 63.5L220.8 61.9L221.1 60.4L221.4 58.9L221.7 57.4L222.0 56.0L222.3 54.6L222.6 53.2L222.9 51.9L223.2 50.6L223.5 49.4L223.8 48.3L224.2 46.8L224.6 45.4L225.0 44.1L225.4 43.0L225.9 41.7L226.4 40.5L227.0 39.4L227.7 38.3L228.6 37.4L229.7 36.9L230.9 36.8L231.9 37.6L232.5 38.8L233.0 40.2L233.4 41.5L233.8 43.0L234.1 44.2L234.4 45.4L234.7 46.7L235.0 48.0L235.3 49.3L235.6 50.6L235.9 51.8L236.2 53.1L236.5 54.5L236.8 55.8L237.1 57.2L237.4 58.7L237.7 60.1L238.0 61.7L238.3 63.3L238.6 65.0L238.8 66.2L239.0 67.5L239.2 68.7L239.4 70.1L239.6 71.4L239.8 72.8L240.0 74.3L240.2 75.8L240.4 77.3L240.6 78.9L240.8 80.5L241.0 82.2L241.2 83.8L241.4 85.5L241.6 87.3L241.8 89.0L242.0 90.8L242.2 92.6L242.4 94.4L242.6 96.2L242.8 98.1L243.0 99.9L243.2 101.8L243.4 103.7L243.6 105.6L243.8 107.5L244.0 109.3L244.2 111.2L244.4 113.1L244.6 115.0L244.8 116.9L245.0 118.7L245.2 120.6L245.4 122.5L245.6 124.3L245.8 126.1L246.0 127.9L246.2 129.7L246.4 131.5L246.6 133.2L246.8 135.0L247.0 136.7L247.2 138.4L247.4 140.1L247.6 141.8L247.8 143.5L248.0 145.2L248.2 146.8L248.4 148.5L248.6 150.1L248.8 151.7L249.0 153.4L249.2 155.0L249.4 156.6L249.6 158.1L249.8 159.7L250.0 161.3L250.2 162.8L250.4 164.4L250.6 165.9L250.8 167.4L251.0 168.9L251.2 170.4L251.4 171.9L251.6 173.4L251.8 174.9L252.0 176.4L252.2 177.9L252.4 179.3L252.6 180.8L252.8 182.2L253.0 183.6L253.2 185.1L253.4 186.5L253.6 187.9L253.8 189.3L254.0 190.7L254.2 192.1L254.4 193.5L254.6 194.9L254.8 196.3L255.0 197.7L255.2 199.0L255.4 200.4L255.6 201.8L255.8 203.1L256.0 204.5L256.2 205.8L256.4 207.2L256.6 208.5L256.8 209.8L257.0 211.1L257.2 212.5L257.4 213.8L257.6 215.1L257.8 216.4L258.0 217.6L258.2 218.9L258.4 220.2L258.6 221.5L258.8 222.7L259.0 224.0L259.2 225.2L259.4 226.5L259.6 227.7L259.8 228.9L260.0 230.2L260.2 231.4L260.4 232.6L260.6 233.8L260.8 235.0L261.0 236.2L261.3 237.9L261.6 239.7L261.9 241.4L262.2 243.1L262.5 244.8L262.8 246.5L263.1 248.2L263.4 249.8L263.7 251.4L264.0 253.1L264.3 254.6L264.6 256.2L264.9 257.8L265.2 259.3L265.5 260.8L265.8 262.3L266.1 263.8L266.4 265.3L266.7 266.7L267.0 268.1L267.3 269.5L267.6 270.9L267.9 272.3L268.2 273.6L268.5 274.9L268.8 276.2L269.1 277.5L269.4 278.8L269.7 280.0L270.0 281.3L270.3 282.5L270.6 283.7L270.9 284.8L271.3 286.4L271.7 287.9L272.1 289.4L272.5 290.8L272.9 292.3L273.3 293.7L273.7 295.0L274.1 296.4L274.5 297.7L274.9 299.0L275.3 300.3L275.7 301.5L276.1 302.7L276.5 303.9L276.9 305.1L277.3 306.2L277.8 307.6L278.3 309.0L278.8 310.4L279.3 311.7L279.8 313.0L280.3 314.2L280.8 315.5L281.3 316.7L281.8 317.8L282.3 319.0L282.8 320.1L283.3 321.2L283.9 322.5L284.5 323.8L285.1 325.0L285.7 326.3L286.3 327.5L286.9 328.7L287.5 329.8L288.1 330.9L288.7 332.1L289.3 333.1L289.9 334.2L290.5 335.3L291.2 336.5L291.9 337.6L292.6 338.8L293.3 339.9L294.0 341.0L294.7 342.0L295.4 343.1L296.1 344.1L296.8 345.1L297.6 346.2L298.4 347.3L299.2 348.3L300.0 349.3L300.8 350.3L301.6 351.3L302.4 352.2L303.2 353.1L304.1 354.1L305.0 355.0L305.9 355.9L306.8 356.8L307.7 357.7L308.6 358.5L309.5 359.3L310.5 360.2L311.5 361.0L312.5 361.8L313.5 362.6L314.5 363.3L315.5 364.0L316.5 364.7L317.5 365.4L318.6 366.1L319.7 366.8L320.8 367.4L321.9 368.0L323.0 368.6L324.1 369.2L325.2 369.7L326.3 370.2L327.4 370.7L328.6 371.2L329.8 371.7L331.0 372.2L332.2 372.6L333.4 373.0L334.6 373.4L335.8 373.8L337.0 374.2L338.2 374.5L339.4 374.8L340.6 375.1L341.8 375.4L343.0 375.7L344.2 376.0L345.4 376.3L346.6 376.5L347.8 376.8L349.0 377.0L350.2 377.3L351.4 377.5L352.6 377.7L353.8 378.0L355.0 378.2L356.2 378.4L357.4 378.6L358.6 378.9L359.8 379.1L361.0 379.3L362.2 379.5L363.4 379.7L364.6 379.9L365.8 380.1L367.0 380.3L368.2 380.5L369.4 380.7L370.6 380.9L371.8 381.1L373.0 381.3L374.2 381.5L375.4 381.7L376.6 381.8L377.8 382.0L379.0 382.2L380.2 382.3L381.4 382.5L382.6 382.7L383.8 382.8L385.0 383.0L386.2 383.1L387.4 383.2L388.6 383.4L389.8 383.5L391.0 383.6L392.2 383.8L393.4 383.9L394.6 384.0L395.8 384.1L397.0 384.2L398.2 384.3L399.4 384.4L400.6 384.5L401.8 384.6L403.0 384.7L404.2 384.7L405.4 384.8L406.6 384.9L407.8 385.0L409.0 385.0L410.2 385.1L411.4 385.1L412.6 385.2L413.8 385.2L415.0 385.3L416.2 385.3L417.4 385.4L418.6 385.4L419.8 385.5L421.0 385.5L422.2 385.5L423.4 385.6L424.6 385.6L425.8 385.6L427.0 385.6L428.2 385.7L429.4 385.7L430.6 385.7L431.8 385.7L433.0 385.8L434.2 385.8L435.4 385.8L436.6 385.8L437.8 385.9L439.0 385.9L440.2 385.9L441.4 385.9L442.6 386.0L443.8 386.0L445.0 386.0L446.2 386.0L447.4 386.1L448.6 386.1L449.8 386.1L451.0 386.2L452.2 386.2L453.4 386.2L454.6 386.2L455.8 386.3L457.0 386.3L458.2 386.3L459.4 386.4L460.6 386.4L461.8 386.4L463.0 386.4L464.2 386.5L465.4 386.5L466.6 386.5L467.8 386.6L469.0 386.6L470.2 386.6L471.4 386.7L472.6 386.7L473.8 386.7L475.0 386.7L476.2 386.8L477.4 386.8L478.6 386.8L479.8 386.8L481.0 386.9L482.2 386.9L483.4 386.9L484.6 386.9L485.8 387.0L487.0 387.0L488.2 387.0L489.4 387.0L490.6 387.0L491.8 387.1L493.0 387.1L494.2 387.1L495.4 387.1L496.6 387.1L497.8 387.1L499.0 387.1L500.2 387.2L501.4 387.2L502.6 387.2L503.8 387.2L505.0 387.2L506.2 387.2L507.4 387.2L508.6 387.2L509.8 387.2L511.0 387.2L512.2 387.3L513.4 387.3L514.6 387.3L515.8 387.3L517.0 387.3L518.2 387.3L519.4 387.3L520.6 387.3L521.8 387.3L523.0 387.3L524.2 387.3L525.4 387.3L526.6 387.3L527.8 387.3L529.0 387.3L530.2 387.4L531.4 387.4L532.6 387.4L533.8 387.4L535.0 387.4L536.2 387.4L537.4 387.4L538.6 387.4L539.8 387.4L541.0 387.4L542.2 387.4L543.4 387.4L544.6 387.4L545.8 387.4L547.0 387.5L548.2 387.5L549.4 387.5L550.6 387.5L551.8 387.5L553.0 387.5L554.2 387.5L555.4 387.5L556.6 387.5L557.8 387.5L559.0 387.5L560.2 387.5L561.4 387.6L562.6 387.6L563.8 387.6L565.0 387.6L566.2 387.6L567.4 387.6L568.6 387.6L569.8 387.6L571.0 387.6L572.2 387.6L573.4 387.6L574.6 387.6L575.8 387.6L577.0 387.6L578.2 387.6L579.4 387.6L580.6 387.7L581.8 387.7L583.0 387.7L584.2 387.7L585.4 387.7L586.6 387.7L587.8 387.7L589.0 387.7L590.2 387.7L591.4 387.7L592.6 387.7L593.8 387.7L595.0 387.7L596.2 387.7L597.4 387.7L598.6 387.7L599.8 387.7L601.0 387.7L602.2 387.7L603.4 387.7L604.6 387.7L605.8 387.7L607.0 387.7L608.2 387.7L609.4 387.7L610.6 387.7L611.8 387.7L613.0 387.7L614.2 387.7L615.4 387.7L616.6 387.7L617.8 387.7L619.0 387.7L620.2 387.7L621.4 387.7L622.6 387.8L623.8 387.8L625.0 387.8L626.2 387.8L627.4 387.8L628.6 387.8L629.8 387.8L631.0 387.8L632.2 387.8L633.4 387.8L634.6 387.8L635.8 387.8L637.0 387.8L638.2 387.8L639.4 387.8L640.6 387.8L641.8 387.8L643.0 387.8L644.2 387.8L645.4 387.8L646.6 387.8L647.8 387.8L649.0 387.8L650.2 387.8L651.4 387.8L652.6 387.8L653.8 387.8L655.0 387.8L656.2 387.8L657.4 387.8L658.6 387.8L659.8 387.8L661.0 387.8L662.2 387.8L663.4 387.8L664.6 387.8L665.8 387.8L667.0 387.8L668.2 387.8L669.4 387.8L670.6 387.8L671.8 387.8L673.0 387.8L674.2 387.8L675.4 387.8L676.6 387.8L677.8 387.8L679.0 387.8L680.2 387.9L680.9 387.9"/>
</g>
<g fill="none" stroke-width="3.7" stroke-linecap="round">
<path stroke="#00ffff" d="M616.55 51.8 H663.75"/>
<path stroke="#ff00ff" stroke-dasharray="8.45 13.52" d="M616.55 83.4 H663.75"/>
<path stroke="#00ff00" stroke-dasharray="1.69 6.76" d="M616.55 114.9 H663.75"/>
<path stroke="#000000" stroke-dasharray="13.52 6.76 3.38 6.76" d="M616.55 146.3 H663.75"/>
<path stroke="#ff0000" stroke-dasharray="15.21 6.76 1.69 6.76 1.69 6.76" d="M616.55 177.8 H663.75"/>
</g>
<text x="531.28" y="60.30" font-size="37.3" textLength="66.32" lengthAdjust="spacing">0.05</text>
<text x="494.38" y="60.30" font-size="37.3" textLength="25.3" lengthAdjust="spacingAndGlyphs">=</text>
<text x="458.9" y="60.30" font-size="37.3" font-style="italic">α</text>
<text x="549.93" y="91.90" font-size="37.3" textLength="47.67" lengthAdjust="spacing">0.1</text>
<text x="513.03" y="91.90" font-size="37.3" textLength="25.3" lengthAdjust="spacingAndGlyphs">=</text>
<text x="477.55" y="91.90" font-size="37.3" font-style="italic">α</text>
<text x="549.93" y="123.40" font-size="37.3" textLength="47.67" lengthAdjust="spacing">0.2</text>
<text x="513.03" y="123.40" font-size="37.3" textLength="25.3" lengthAdjust="spacingAndGlyphs">=</text>
<text x="477.55" y="123.40" font-size="37.3" font-style="italic">α</text>
<text x="549.93" y="154.80" font-size="37.3" textLength="47.67" lengthAdjust="spacing">0.4</text>
<text x="513.03" y="154.80" font-size="37.3" textLength="25.3" lengthAdjust="spacingAndGlyphs">=</text>
<text x="477.55" y="154.80" font-size="37.3" font-style="italic">α</text>
<text x="578.95" y="186.30" font-size="37.3" textLength="18.65" lengthAdjust="spacing">1</text>
<text x="542.05" y="186.30" font-size="37.3" textLength="25.3" lengthAdjust="spacingAndGlyphs">=</text>
<text x="506.55" y="186.30" font-size="37.3" font-style="italic">α</text>
<text x="108.55" y="395.50" font-size="37.3" textLength="18.65" lengthAdjust="spacing">0</text>
<text x="79.53" y="294.80" font-size="37.3" textLength="47.67" lengthAdjust="spacing">0.4</text>
<text x="79.53" y="193.75" font-size="37.3" textLength="47.67" lengthAdjust="spacing">0.8</text>
<text x="79.53" y="92.50" font-size="37.3" textLength="47.67" lengthAdjust="spacing">1.2</text>
<text x="149.75" y="427.00" font-size="37.3" text-anchor="middle">0</text>
<text x="256.85" y="427.00" font-size="37.3" text-anchor="middle">1</text>
<text x="363.95" y="427.00" font-size="37.3" text-anchor="middle">2</text>
<text x="471.05" y="427.00" font-size="37.3" text-anchor="middle">3</text>
<text x="578.15" y="427.00" font-size="37.3" text-anchor="middle">4</text>
<text x="685.25" y="427.00" font-size="37.3" text-anchor="middle">5</text>
<text x="411.2" y="474.10" font-size="37.3" font-style="italic" text-anchor="middle">x</text>
<g transform="translate(33.5 258) rotate(-90)"><text x="0" y="0" font-size="37.3" style="font-family:'Liberation Serif','DejaVu Serif','DejaVu Sans',serif" textLength="23" lengthAdjust="spacingAndGlyphs">ℙ</text><text x="24.5" y="5.6" font-size="26" font-style="italic">A</text><text x="47.5" y="0" font-size="37.3">(</text><text x="61.5" y="0" font-size="37.3" font-style="italic">x</text><text x="82" y="0" font-size="37.3">)</text></g>
</svg></body></html>
